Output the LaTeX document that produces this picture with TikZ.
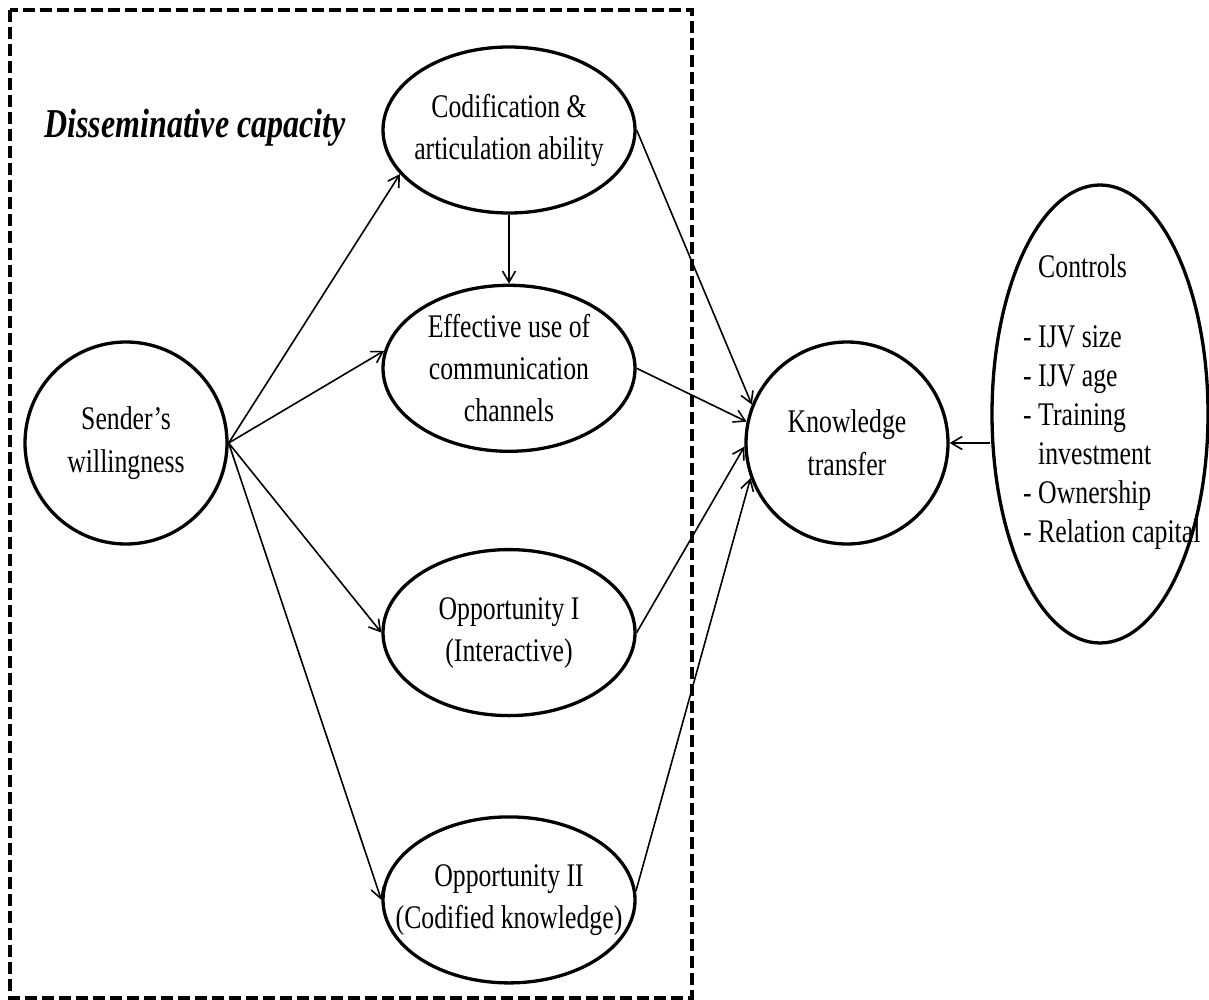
\documentclass[tikz,border=0pt]{standalone}
\usepackage{fontspec}
\setmainfont{Liberation Serif}[FakeStretch=0.78]
\usetikzlibrary{shapes.geometric, arrows.meta, positioning}

\begin{document}
\begin{tikzpicture}[
    x=1pt, y=-1pt,
    bubble/.style={draw=black, line width=3.3pt, ellipse, minimum width=252pt, minimum height=166pt, inner xsep=-25pt, inner ysep=0pt, align=center, font=\fontsize{33}{42}\selectfont},
    roundbox/.style={draw=black, line width=3.3pt, circle, minimum size=202pt, inner sep=0pt, align=center, font=\fontsize{33}{43}\selectfont},
    ctlbubble/.style={draw=black, line width=3.3pt, ellipse, minimum width=216pt, minimum height=458pt, inner sep=0pt},
    ctllist/.style={anchor=north west, inner sep=0pt, align=left, font=\fontsize{33}{39}\selectfont},
    link/.style={line width=1.6pt, -{Straight Barb[length=11pt,width=13pt]}},
    dashbox/.style={line width=3.3pt, dash pattern=on 12pt off 5pt},
    heading/.style={font=\fontsize{41}{48}\selectfont\bfseries\itshape}
]

\useasboundingbox (0,0) rectangle (1209,1000);

% Rahmen um die Disseminationsfaehigkeit
\draw[dashbox] (10,10) rectangle (692,998);
\node[heading] (title) at (195,128) {Disseminative capacity};

% Knoten
\node[bubble] (cod) at (509,130) {Codification \&\\articulation ability};
\node[bubble, below=69pt of cod] (eff) {Effective use of\\communication\\channels};
\node[bubble, below=95pt of eff] (opi) {Opportunity I\\(Interactive)};
\node[bubble, below=98pt of opi] (opii) {Opportunity II\\(Codified knowledge)};
\node[roundbox] (snd) at (126,443) {Sender's\\willingness};
\node[roundbox] (kt) at (847,443) {Knowledge\\transfer};

% Kontrollvariablen
\node[ctlbubble] (ctl) at (1100,414) {};
\node[ctllist] (ctltxt) at (1023,254) {\phantom{- }Controls\\[31pt]
    - IJV size\\
    - IJV age\\
    - Training\\
    \phantom{- }investment\\
    - Ownership\\
    - Relation capital};

% Kanten
\draw[link] (snd.east) -- (cod.202);
\draw[link] (snd.east) -- (eff.172);
\draw[link] (snd.east) -- (opi.west);
\draw[link] (snd.east) -- (opii.west);
\draw[link] (cod.south) -- (eff.north);
\draw[link] (cod.east) -- (kt.158);
\draw[link] (eff.east) -- (kt.168);
\draw[link] (opi.east) -- (kt.182);
\draw[link] (opii.4) -- (kt.200);
\draw[link] (ctl.west |- kt.east) -- (kt.east);

\end{tikzpicture}
\end{document}
